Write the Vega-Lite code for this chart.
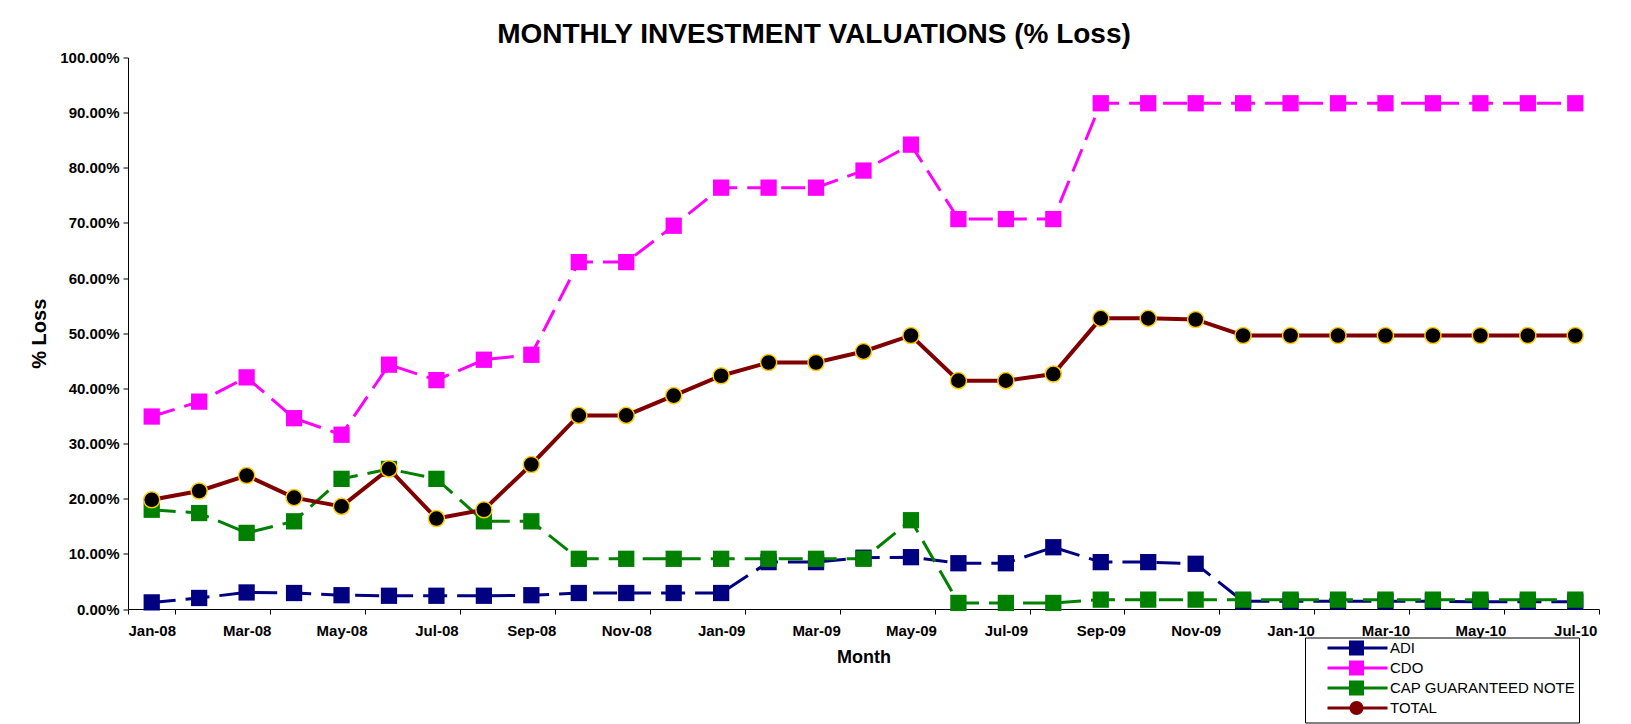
{
  "$schema": "https://vega.github.io/schema/vega-lite/v6.json",
  "width": 1471,
  "height": 551.5,
  "autosize": {"type": "none"},
  "padding": {"left": 128, "top": 57.5, "right": 32, "bottom": 115},
  "background": "white",
  "title": {
    "text": "MONTHLY INVESTMENT VALUATIONS (% Loss)",
    "font": "Liberation Sans",
    "fontSize": 28,
    "fontWeight": "bold",
    "color": "black",
    "anchor": "middle",
    "frame": "group",
    "baseline": "alphabetic",
    "offset": 6,
    "dx": -49.5,
    "dy": 26
  },
  "config": {
    "view": {"stroke": null},
    "font": "Liberation Sans"
  },
  "data": {
    "values": [
      {"m":"Jan-08","s":"ADI","v":0.012},{"m":"Feb-08","s":"ADI","v":0.020},{"m":"Mar-08","s":"ADI","v":0.030},{"m":"Apr-08","s":"ADI","v":0.029},{"m":"May-08","s":"ADI","v":0.025},{"m":"Jun-08","s":"ADI","v":0.024},{"m":"Jul-08","s":"ADI","v":0.024},{"m":"Aug-08","s":"ADI","v":0.024},{"m":"Sep-08","s":"ADI","v":0.025},{"m":"Oct-08","s":"ADI","v":0.029},{"m":"Nov-08","s":"ADI","v":0.029},{"m":"Dec-08","s":"ADI","v":0.029},{"m":"Jan-09","s":"ADI","v":0.029},{"m":"Feb-09","s":"ADI","v":0.085},{"m":"Mar-09","s":"ADI","v":0.085},{"m":"Apr-09","s":"ADI","v":0.093},{"m":"May-09","s":"ADI","v":0.094},{"m":"Jun-09","s":"ADI","v":0.083},{"m":"Jul-09","s":"ADI","v":0.083},{"m":"Aug-09","s":"ADI","v":0.112},{"m":"Sep-09","s":"ADI","v":0.085},{"m":"Oct-09","s":"ADI","v":0.085},{"m":"Nov-09","s":"ADI","v":0.082},{"m":"Dec-09","s":"ADI","v":0.014},{"m":"Jan-10","s":"ADI","v":0.014},{"m":"Feb-10","s":"ADI","v":0.014},{"m":"Mar-10","s":"ADI","v":0.014},{"m":"Apr-10","s":"ADI","v":0.014},{"m":"May-10","s":"ADI","v":0.013},{"m":"Jun-10","s":"ADI","v":0.013},{"m":"Jul-10","s":"ADI","v":0.013},
      {"m":"Jan-08","s":"CDO","v":0.349},{"m":"Feb-08","s":"CDO","v":0.376},{"m":"Mar-08","s":"CDO","v":0.420},{"m":"Apr-08","s":"CDO","v":0.346},{"m":"May-08","s":"CDO","v":0.316},{"m":"Jun-08","s":"CDO","v":0.443},{"m":"Jul-08","s":"CDO","v":0.415},{"m":"Aug-08","s":"CDO","v":0.452},{"m":"Sep-08","s":"CDO","v":0.461},{"m":"Oct-08","s":"CDO","v":0.629},{"m":"Nov-08","s":"CDO","v":0.629},{"m":"Dec-08","s":"CDO","v":0.695},{"m":"Jan-09","s":"CDO","v":0.764},{"m":"Feb-09","s":"CDO","v":0.764},{"m":"Mar-09","s":"CDO","v":0.764},{"m":"Apr-09","s":"CDO","v":0.795},{"m":"May-09","s":"CDO","v":0.842},{"m":"Jun-09","s":"CDO","v":0.707},{"m":"Jul-09","s":"CDO","v":0.707},{"m":"Aug-09","s":"CDO","v":0.707},{"m":"Sep-09","s":"CDO","v":0.917},{"m":"Oct-09","s":"CDO","v":0.917},{"m":"Nov-09","s":"CDO","v":0.917},{"m":"Dec-09","s":"CDO","v":0.917},{"m":"Jan-10","s":"CDO","v":0.917},{"m":"Feb-10","s":"CDO","v":0.917},{"m":"Mar-10","s":"CDO","v":0.917},{"m":"Apr-10","s":"CDO","v":0.917},{"m":"May-10","s":"CDO","v":0.917},{"m":"Jun-10","s":"CDO","v":0.917},{"m":"Jul-10","s":"CDO","v":0.917},
      {"m":"Jan-08","s":"CAP GUARANTEED NOTE","v":0.180},{"m":"Feb-08","s":"CAP GUARANTEED NOTE","v":0.174},{"m":"Mar-08","s":"CAP GUARANTEED NOTE","v":0.138},{"m":"Apr-08","s":"CAP GUARANTEED NOTE","v":0.159},{"m":"May-08","s":"CAP GUARANTEED NOTE","v":0.236},{"m":"Jun-08","s":"CAP GUARANTEED NOTE","v":0.254},{"m":"Jul-08","s":"CAP GUARANTEED NOTE","v":0.236},{"m":"Aug-08","s":"CAP GUARANTEED NOTE","v":0.159},{"m":"Sep-08","s":"CAP GUARANTEED NOTE","v":0.159},{"m":"Oct-08","s":"CAP GUARANTEED NOTE","v":0.091},{"m":"Nov-08","s":"CAP GUARANTEED NOTE","v":0.091},{"m":"Dec-08","s":"CAP GUARANTEED NOTE","v":0.091},{"m":"Jan-09","s":"CAP GUARANTEED NOTE","v":0.091},{"m":"Feb-09","s":"CAP GUARANTEED NOTE","v":0.091},{"m":"Mar-09","s":"CAP GUARANTEED NOTE","v":0.091},{"m":"Apr-09","s":"CAP GUARANTEED NOTE","v":0.091},{"m":"May-09","s":"CAP GUARANTEED NOTE","v":0.161},{"m":"Jun-09","s":"CAP GUARANTEED NOTE","v":0.011},{"m":"Jul-09","s":"CAP GUARANTEED NOTE","v":0.011},{"m":"Aug-09","s":"CAP GUARANTEED NOTE","v":0.011},{"m":"Sep-09","s":"CAP GUARANTEED NOTE","v":0.017},{"m":"Oct-09","s":"CAP GUARANTEED NOTE","v":0.017},{"m":"Nov-09","s":"CAP GUARANTEED NOTE","v":0.017},{"m":"Dec-09","s":"CAP GUARANTEED NOTE","v":0.017},{"m":"Jan-10","s":"CAP GUARANTEED NOTE","v":0.017},{"m":"Feb-10","s":"CAP GUARANTEED NOTE","v":0.017},{"m":"Mar-10","s":"CAP GUARANTEED NOTE","v":0.017},{"m":"Apr-10","s":"CAP GUARANTEED NOTE","v":0.017},{"m":"May-10","s":"CAP GUARANTEED NOTE","v":0.017},{"m":"Jun-10","s":"CAP GUARANTEED NOTE","v":0.017},{"m":"Jul-10","s":"CAP GUARANTEED NOTE","v":0.017},
      {"m":"Jan-08","s":"TOTAL","v":0.198},{"m":"Feb-08","s":"TOTAL","v":0.214},{"m":"Mar-08","s":"TOTAL","v":0.242},{"m":"Apr-08","s":"TOTAL","v":0.202},{"m":"May-08","s":"TOTAL","v":0.186},{"m":"Jun-08","s":"TOTAL","v":0.254},{"m":"Jul-08","s":"TOTAL","v":0.164},{"m":"Aug-08","s":"TOTAL","v":0.180},{"m":"Sep-08","s":"TOTAL","v":0.262},{"m":"Oct-08","s":"TOTAL","v":0.351},{"m":"Nov-08","s":"TOTAL","v":0.351},{"m":"Dec-08","s":"TOTAL","v":0.387},{"m":"Jan-09","s":"TOTAL","v":0.423},{"m":"Feb-09","s":"TOTAL","v":0.447},{"m":"Mar-09","s":"TOTAL","v":0.447},{"m":"Apr-09","s":"TOTAL","v":0.467},{"m":"May-09","s":"TOTAL","v":0.496},{"m":"Jun-09","s":"TOTAL","v":0.414},{"m":"Jul-09","s":"TOTAL","v":0.414},{"m":"Aug-09","s":"TOTAL","v":0.426},{"m":"Sep-09","s":"TOTAL","v":0.527},{"m":"Oct-09","s":"TOTAL","v":0.527},{"m":"Nov-09","s":"TOTAL","v":0.525},{"m":"Dec-09","s":"TOTAL","v":0.496},{"m":"Jan-10","s":"TOTAL","v":0.496},{"m":"Feb-10","s":"TOTAL","v":0.496},{"m":"Mar-10","s":"TOTAL","v":0.496},{"m":"Apr-10","s":"TOTAL","v":0.496},{"m":"May-10","s":"TOTAL","v":0.496},{"m":"Jun-10","s":"TOTAL","v":0.496},{"m":"Jul-10","s":"TOTAL","v":0.496}
    ]
  },
  "encoding": {
    "x": {
      "field": "m",
      "type": "ordinal",
      "sort": null,
      "scale": {"type": "band", "paddingInner": 0, "paddingOuter": 0},
      "axis": {
        "title": "Month",
        "titleFont": "Liberation Sans",
        "titleFontSize": 18,
        "titleFontWeight": "bold",
        "titleColor": "black",
        "titlePadding": 10,
        "values": ["Jan-08","Mar-08","May-08","Jul-08","Sep-08","Nov-08","Jan-09","Mar-09","May-09","Jul-09","Sep-09","Nov-09","Jan-10","Mar-10","May-10","Jul-10"],
        "tickBand": "extent",
        "labelAngle": 0,
        "labelFont": "Liberation Sans",
        "labelFontSize": 15,
        "labelFontWeight": "bold",
        "labelColor": "black",
        "labelPadding": 9,
        "labelOverlap": false,
        "tickSize": 5,
        "tickColor": "black",
        "domainColor": "black",
        "grid": false
      }
    },
    "y": {
      "field": "v",
      "type": "quantitative",
      "scale": {"domain": [0, 1], "nice": false, "zero": true},
      "axis": {
        "title": "% Loss",
        "titleFont": "Liberation Sans",
        "titleFontSize": 20,
        "titleFontWeight": "bold",
        "titleColor": "black",
        "titlePadding": 10,
        "values": [0, 0.1, 0.2, 0.3, 0.4, 0.5, 0.6, 0.7, 0.8, 0.9, 1],
        "format": ".2%",
        "labelFont": "Liberation Sans",
        "labelFontSize": 15,
        "labelFontWeight": "bold",
        "labelColor": "black",
        "labelPadding": 4,
        "tickSize": 5,
        "tickColor": "black",
        "domainColor": "black",
        "grid": false
      }
    }
  },
  "layer": [
    {
      "transform": [{"filter": "datum.s !== 'TOTAL'"}],
      "mark": {"type": "line", "strokeWidth": 3, "strokeDash": [24, 10]},
      "encoding": {
        "color": {
          "field": "s",
          "type": "nominal",
          "scale": {
            "domain": ["ADI", "CDO", "CAP GUARANTEED NOTE", "TOTAL"],
            "range": ["#000080", "#FF00FF", "#008000", "#800000"]
          },
          "legend": {
            "title": null,
            "orient": "none",
            "legendX": 1177,
            "legendY": 580,
            "padding": 3,
            "strokeColor": "black",
            "fillColor": "white",
            "cornerRadius": 0,
            "labelFont": "Liberation Sans",
            "labelFontSize": 15,
            "labelColor": "black",
            "labelOffset": 67,
            "symbolSize": 4,
            "rowPadding": -8,
            "symbolStrokeWidth": 3,
            "labelLimit": 400,
            "encode": {
              "symbols": {
                "update": {
                  "shape": [
                    {"test": "datum.value === 'TOTAL'", "value": "M12,0H35.5M46.5,0H72M35.5,0A5.5,5.5,0,1,1,46.5,0A5.5,5.5,0,1,1,35.5,0Z"},
                    {"value": "M12,0H72M35,-6H47V6H35Z"}
                  ],
                  "fill": [
                    {"test": "datum.value === 'TOTAL'", "value": "#000000"},
                    {"scale": "color", "field": "value"}
                  ],
                  "stroke": {"scale": "color", "field": "value"},
                  "strokeWidth": {"value": 3},
                  "strokeDash": {"value": []},
                  "opacity": {"value": 1}
                }
              }
            }
          }
        }
      }
    },
    {
      "transform": [{"filter": "datum.s !== 'TOTAL'"}],
      "mark": {"type": "point", "shape": "square", "filled": true, "size": 265, "opacity": 1},
      "encoding": {
        "color": {"field": "s", "type": "nominal", "legend": null}
      }
    },
    {
      "transform": [{"filter": "datum.s === 'TOTAL'"}],
      "mark": {"type": "line", "strokeWidth": 4, "color": "#800000"},
      "encoding": {}
    },
    {
      "transform": [{"filter": "datum.s === 'TOTAL'"}],
      "mark": {"type": "point", "shape": "circle", "filled": true, "size": 260, "fill": "#000000", "stroke": "#FFCC00", "strokeWidth": 1.5, "opacity": 1},
      "encoding": {}
    }
  ]
}
